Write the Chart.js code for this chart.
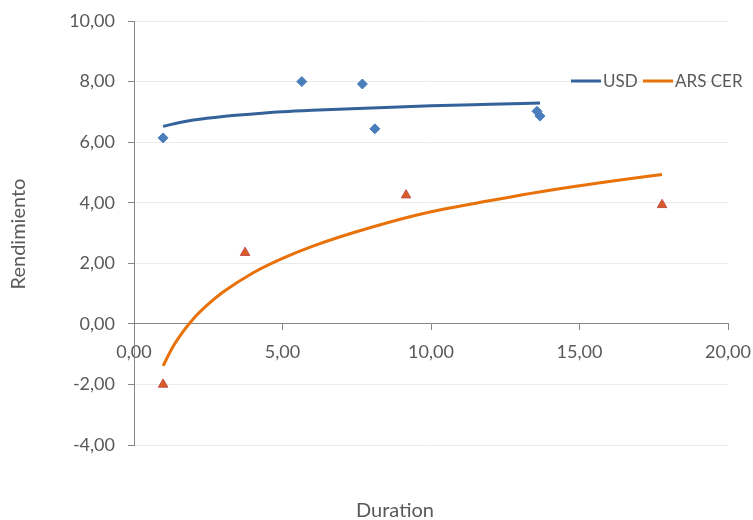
<!DOCTYPE html>
<html>
<head>
<meta charset="utf-8">
<script src="https://cdn.jsdelivr.net/npm/chart.js@4.4.1/dist/chart.umd.min.js"></script>
<style>
  html, body { margin: 0; padding: 0; background: #fff; }
  #wrap { width: 753px; height: 520px; }
</style>
</head>
<body>
<div id="wrap"><canvas id="chart" width="753" height="520"></canvas></div>
<script>
// points
const usdDuration = [0.98, 5.65, 7.69, 8.11, 13.57, 13.67];
const usdYield = [6.14, 8.00, 7.92, 6.44, 7.02, 6.86];
const cerDuration = [0.98, 3.74, 9.16, 17.78];
const cerYield = [-2.00, 2.35, 4.25, 3.93];

// trend curves
const usdTrendX = [0.98, 1.5, 2, 3, 4, 5, 6, 8, 10, 12, 13.67];
const usdTrendY = [6.52, 6.64, 6.73, 6.85, 6.93, 7.00, 7.05, 7.13, 7.20, 7.25, 7.29];
const cerTrendX = [0.98, 1.25, 1.5, 2, 2.5, 3, 4, 5, 6, 8, 10, 12, 14, 16, 17.78];
const cerTrendY = [-1.39, -0.86, -0.46, 0.17, 0.65, 1.05, 1.68, 2.16, 2.56, 3.19, 3.70, 4.07, 4.41, 4.70, 4.93];

const seriesNames = ["USD", "ARS CER"];
const xTitle = "Duration";
const yTitle = "Rendimiento";

const textColor = "#595959";
const axisColor = "#868686";
const fontFamily = "Lato, 'Open Sans', sans-serif";
const usdLine = "#34629a";
const cerLine = "#e8710a";

const toPts = (xs, ys) => xs.map((x, i) => ({ x: x, y: ys[i] }));
const fmt = (v) => Number(v).toFixed(2).replace(".", ",");

const extras = {
  id: "extras",
  afterDraw(chart) {
    const ctx = chart.ctx;
    ctx.save();
    ctx.fillStyle = textColor;
    ctx.font = "20px " + fontFamily;
    ctx.textAlign = "center";
    ctx.textBaseline = "middle";
    ctx.fillText(xTitle, 395, 511);
    ctx.translate(19, 234);
    ctx.rotate(-Math.PI / 2);
    ctx.fillText(yTitle, 0, 0);
    ctx.restore();

    // legend
    ctx.save();
    ctx.font = "17px " + fontFamily;
    ctx.textBaseline = "middle";
    ctx.textAlign = "left";
    const items = [
      { label: seriesNames[0], color: usdLine, x0: 571 },
      { label: seriesNames[1], color: cerLine, x0: 643 }
    ];
    items.forEach((it) => {
      ctx.strokeStyle = it.color;
      ctx.lineWidth = 3;
      ctx.beginPath();
      ctx.moveTo(it.x0, 81);
      ctx.lineTo(it.x0 + 30, 81);
      ctx.stroke();
      ctx.fillStyle = textColor;
      ctx.fillText(it.label, it.x0 + 32, 82);
    });
    ctx.restore();
  }
};

new Chart(document.getElementById("chart"), {
  type: "scatter",
  data: {
    datasets: [
      {
        label: seriesNames[0] + " trend",
        type: "line",
        data: toPts(usdTrendX, usdTrendY),
        borderColor: usdLine,
        borderWidth: 3,
        pointRadius: 0,
        cubicInterpolationMode: "monotone",
        fill: false
      },
      {
        label: seriesNames[1] + " trend",
        type: "line",
        data: toPts(cerTrendX, cerTrendY),
        borderColor: cerLine,
        borderWidth: 3,
        pointRadius: 0,
        cubicInterpolationMode: "monotone",
        fill: false
      },
      {
        label: seriesNames[0],
        data: toPts(usdDuration, usdYield),
        pointStyle: "rectRot",
        pointRadius: 5,
        backgroundColor: "#4a7ebb",
        borderColor: "#4a7ebb",
        borderWidth: 1
      },
      {
        label: seriesNames[1],
        data: toPts(cerDuration, cerYield),
        pointStyle: "triangle",
        pointRadius: 5.5,
        backgroundColor: "#dc5a23",
        borderColor: "#c0504d",
        borderWidth: 1
      }
    ]
  },
  options: {
    responsive: false,
    animation: false,
    layout: { padding: { left: 0, top: 21, right: 25, bottom: 75 } },
    plugins: {
      legend: { display: false },
      tooltip: { enabled: false }
    },
    scales: {
      x: {
        type: "linear",
        position: { y: 0 },
        min: 0,
        max: 20,
        afterFit: (s) => { s.paddingLeft = 0; s.paddingRight = 0; },
        ticks: {
          stepSize: 5,
          padding: 12,
          color: textColor,
          font: { family: fontFamily, size: 18 },
          maxRotation: 0,
          callback: (v) => fmt(v)
        },
        grid: {
          drawOnChartArea: false,
          drawTicks: true,
          tickLength: 6,
          tickColor: axisColor,
          color: axisColor
        },
        border: { display: true, color: axisColor, width: 1 }
      },
      y: {
        type: "linear",
        position: "left",
        min: -4,
        max: 10,
        afterFit: (s) => { s.width = 134; s.paddingTop = 0; s.paddingBottom = 0; },
        ticks: {
          stepSize: 2,
          padding: 13,
          color: textColor,
          font: { family: fontFamily, size: 18 },
          callback: (v) => fmt(v)
        },
        grid: {
          color: "#ebebeb",
          tickColor: axisColor,
          tickLength: 6,
          lineWidth: 1
        },
        border: { display: true, color: axisColor, width: 1 }
      }
    }
  },
  plugins: [extras]
});
</script>
</body>
</html>
